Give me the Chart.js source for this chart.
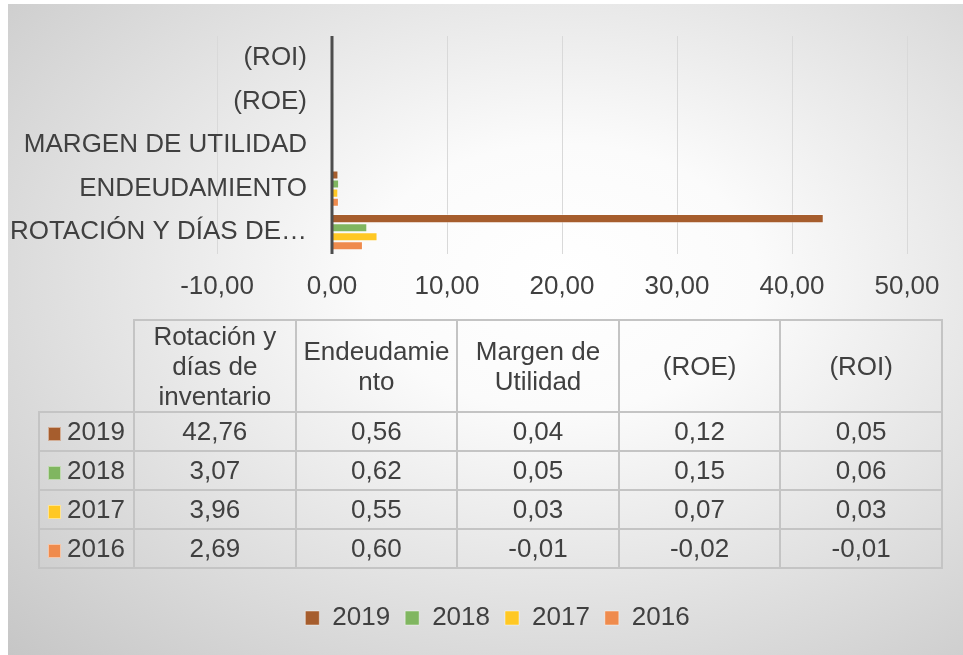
<!DOCTYPE html>
<html lang="es">
<head>
<meta charset="utf-8">
<title>Indicadores 2016-2019</title>
<script src="https://cdn.jsdelivr.net/npm/chart.js@4.4.1/dist/chart.umd.min.js"></script>
<style>
html, body { margin: 0; padding: 0; background: #fff; }
#marco {
    position: absolute; left: 8px; top: 4px; width: 955px; height: 651px;
    background: radial-gradient(ellipse farthest-corner at 58% 42%, #ffffff 0%, #fbfbfb 25%, #c6c6c6 100%);
}
#grafico { position: absolute; left: 0; top: 0; }
#tabla {
    position: absolute; left: 38px; top: 319px;
    border-collapse: collapse; table-layout: fixed;
    font: 26px "Liberation Sans", Arial, sans-serif; color: #404040;
}
#tabla td {
    border: 2px solid #c4c4c4; text-align: center; vertical-align: middle;
    padding: 0 3px; height: 37px; white-space: nowrap;
}
#tabla tr.cab td { height: 88px; line-height: 30px; white-space: normal; overflow-wrap: anywhere; }
#tabla td.vacio { border-top: none; border-left: none; }
.muestra { display: inline-block; width: 11px; height: 12px; margin-right: 6px; vertical-align: -1px; border: 1px solid rgba(255,255,255,0.5); }
</style>
</head>
<body>
<div id="marco"></div>
<canvas id="grafico" width="963" height="655"></canvas>
<table id="tabla"></table>
<script>
const categorias = ["Rotación y días de inventario", "Endeudamiento", "Margen de Utilidad", "(ROE)", "(ROI)"];
const etiquetasEje = ["ROTACIÓN Y DÍAS DE…", "ENDEUDAMIENTO", "MARGEN DE UTILIDAD", "(ROE)", "(ROI)"];
const anios = ["2019", "2018", "2017", "2016"];
const valores2019 = [42.76, 0.56, 0.04, 0.12, 0.05];
const valores2018 = [3.07, 0.62, 0.05, 0.15, 0.06];
const valores2017 = [3.96, 0.55, 0.03, 0.07, 0.03];
const valores2016 = [2.69, 0.60, -0.01, -0.02, -0.01];
const ticksEje = [-10, 0, 10, 20, 30, 40, 50];
const colores = ["#A65D2D", "#80B660", "#FFC824", "#EF8B4D"];

const series = [valores2019, valores2018, valores2017, valores2016];
const FUENTE = "26px 'Liberation Sans', Arial, sans-serif";

function formato(v) {
    return Number(v).toFixed(2).replace(".", ",");
}

function anchoMaximo(textos) {
    const c = document.createElement("canvas").getContext("2d");
    c.font = FUENTE;
    return Math.max(...textos.map(t => c.measureText(t).width));
}

function montarTabla() {
    const tabla = document.getElementById("tabla");
    let html = "<colgroup><col style='width:95px'>" +
        categorias.map(() => "<col style='width:161.6px'>").join("") + "</colgroup>";
    html += "<tr class='cab'><td class='vacio'></td>" +
        categorias.map(c => `<td>${c}</td>`).join("") + "</tr>";
    anios.forEach((a, i) => {
        html += `<tr><td><span class='muestra' style='background:${colores[i]}'></span>${a}</td>` +
            series[i].map(v => `<td>${formato(v)}</td>`).join("") + "</tr>";
    });
    tabla.innerHTML = html;
}

// eje vertical oscuro en el cero, por encima de las barras
const lineaCero = {
    id: "lineaCero",
    afterDatasetsDraw(chart) {
        const { ctx, chartArea, scales } = chart;
        const x = scales.x.getPixelForValue(0);
        ctx.save();
        ctx.strokeStyle = "#4d4d4d";
        ctx.lineWidth = 3;
        ctx.beginPath();
        ctx.moveTo(x, chartArea.top);
        ctx.lineTo(x, chartArea.bottom);
        ctx.stroke();
        ctx.restore();
    }
};

function dibujarGrafico() {
    Chart.defaults.font.family = "'Liberation Sans', Arial, sans-serif";
    Chart.defaults.font.size = 26;
    Chart.defaults.color = "#404040";

    const ctx = document.getElementById("grafico").getContext("2d");
    new Chart(ctx, {
        type: "bar",
        data: {
            labels: etiquetasEje,
            datasets: anios.map((a, i) => ({
                label: a,
                data: series[i],
                backgroundColor: colores[i],
                borderColor: "rgba(255,255,255,0.45)",
                borderWidth: 1
            }))
        },
        options: {
            indexAxis: "y",
            responsive: false,
            animation: false,
            datasets: { bar: { barPercentage: 1, categoryPercentage: 0.83 } },
            layout: { padding: { left: 88, right: 56, top: 36, bottom: 14 } },
            plugins: {
                legend: {
                    position: "bottom",
                    labels: { boxWidth: 14, boxHeight: 14, padding: 15 }
                },
                tooltip: { enabled: false }
            },
            scales: {
                x: {
                    min: ticksEje[0],
                    max: ticksEje[ticksEje.length - 1],
                    ticks: { stepSize: ticksEje[1] - ticksEje[0], padding: 17, callback: v => formato(v) },
                    grid: { drawTicks: false, color: "#d9d9d9" },
                    border: { display: false },
                    afterFit: s => { s.height = 336; }
                },
                y: {
                    reverse: true,
                    grid: { display: false, drawTicks: false },
                    border: { display: false },
                    // etiquetas alineadas a la derecha a 90px del borde del área
                    ticks: { mirror: true, crossAlign: "far", padding: 90 - anchoMaximo(etiquetasEje) },
                    afterFit: s => { s.width = 129; }
                }
            }
        },
        plugins: [lineaCero]
    });
}

document.addEventListener("DOMContentLoaded", () => {
    montarTabla();
    dibujarGrafico();
});
</script>
</body>
</html>
